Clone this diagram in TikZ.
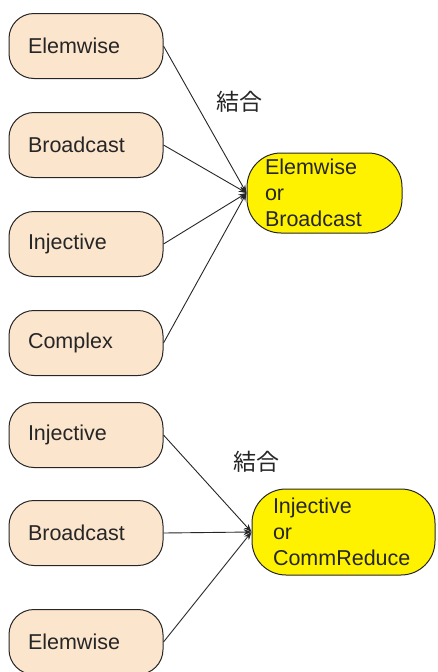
\documentclass[tikz,border=0pt]{standalone}
\usepackage{fontspec}
\setmainfont{Liberation Sans}
\newfontfamily\cjk{Noto Sans CJK JP}
\usetikzlibrary{arrows.meta}
\definecolor{peach}{HTML}{FCE5CD}
\definecolor{lineclr}{HTML}{262626}
\tikzset{
  srcbox/.style={draw=lineclr, line width=1pt, fill=peach, rounded corners=25pt,
    minimum width=154pt, minimum height=65pt, text width=116pt, inner xsep=19pt,
    align=left, font=\fontsize{21.5}{26}\selectfont, text=black!85},
  dstbox/.style={draw=lineclr, line width=1pt, fill=yellow, rounded corners=34pt,
    minimum height=80pt, align=left, font=\fontsize{21.5}{26}\selectfont, text=black!85},
  conn/.style={draw=lineclr, line width=0.9pt, -{Stealth[length=8pt,width=6pt]}},
  joinlbl/.style={font=\cjk\fontsize{23}{26}\selectfont, text=black!85}
}
\begin{document}
\begin{tikzpicture}[x=1pt,y=-1pt]
\useasboundingbox (0,0) rectangle (437,672);
\node[srcbox] (a1) at (86,46) {Elemwise};
\node[srcbox] (a2) at (86,145) {Broadcast};
\node[srcbox] (a3) at (86,244) {Injective};
\node[srcbox] (a4) at (86,343) {Complex};
\node[dstbox, minimum width=155pt, text width=119pt, inner xsep=18pt] (y1) at (324.5,193) {Elemwise\\or\\Broadcast};
\node[joinlbl] (l1) at (239,102) {結合};
\foreach \s in {a1,a2,a3,a4} \draw[conn] (\s.east) -- (y1.west);

\node[srcbox] (b1) at (86,435) {Injective};
\node[srcbox] (b2) at (86,533) {Broadcast};
\node[srcbox] (b3) at (86,642) {Elemwise};
\node[dstbox, minimum width=183pt, minimum height=86pt, text width=141pt, inner xsep=21pt] (y2) at (343.5,532) {Injective\\or\\CommReduce};
\node[joinlbl] (l2) at (256,462) {結合};
\foreach \s in {b1,b2,b3} \draw[conn] (\s.east) -- (y2.west);
\end{tikzpicture}
\end{document}
